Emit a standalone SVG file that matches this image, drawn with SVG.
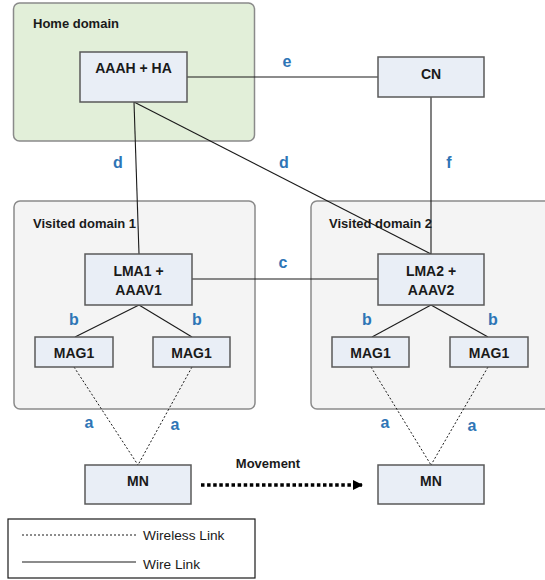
<svg xmlns="http://www.w3.org/2000/svg" width="545" height="580" viewBox="0 0 545 580">
<defs>
<style>
.dom{stroke:#8a8a8a;stroke-width:1.5}
.home{fill:#e2efd9}
.vis{fill:#f4f4f4}
.node{fill:#e9eef6;stroke:#595959;stroke-width:1.5}
.nt{font-family:"Liberation Sans",Arial,sans-serif;font-weight:bold;font-size:14px;fill:#1a1a1a;text-anchor:middle}
.dt{font-family:"Liberation Sans",Arial,sans-serif;font-weight:bold;font-size:13px;fill:#1a1a1a}
.lb{font-family:"Liberation Sans",Arial,sans-serif;font-weight:bold;font-size:16px;fill:#2e75b6;text-anchor:middle}
.wire{stroke:#1a1a1a;stroke-width:1.1;fill:none}
.wl{stroke:#1a1a1a;stroke-width:1;stroke-dasharray:2 2;fill:none}
.lt{font-family:"Liberation Sans",Arial,sans-serif;font-size:13.7px;fill:#1a1a1a}
</style>
<marker id="ah" viewBox="0 0 10 10" refX="9" refY="5" markerWidth="10" markerHeight="11" markerUnits="userSpaceOnUse" orient="auto">
<path d="M0,0 L10,5 L0,10 Z" fill="#000"/>
</marker>
</defs>

<g id="home-domain">
<rect class="dom home" x="13.5" y="3" width="241" height="138" rx="6"/>
<text class="dt" x="33" y="28">Home domain</text>
</g>
<g id="visited-domain-1">
<rect class="dom vis" x="14" y="201" width="241" height="208" rx="6"/>
<text class="dt" x="33" y="228">Visited domain 1</text>
</g>
<g id="visited-domain-2">
<rect class="dom vis" x="311" y="201" width="250" height="208" rx="6"/>
<text class="dt" x="329" y="228">Visited domain 2</text>
</g>

<g id="connectors">
<line class="wire" x1="187" y1="77" x2="378" y2="77"/>
<line class="wire" x1="134" y1="102" x2="139" y2="254"/>
<line class="wire" x1="134" y1="102" x2="431" y2="254"/>
<line class="wire" x1="431" y1="97" x2="431" y2="254"/>
<line class="wire" x1="192" y1="279" x2="378" y2="279"/>
<line class="wire" x1="139" y1="305" x2="75" y2="337"/>
<line class="wire" x1="139" y1="305" x2="192" y2="337"/>
<line class="wire" x1="431" y1="305" x2="372" y2="337"/>
<line class="wire" x1="431" y1="305" x2="488" y2="337"/>
<line class="wl" x1="74" y1="367" x2="138" y2="465"/>
<line class="wl" x1="192" y1="367" x2="138" y2="465"/>
<line class="wl" x1="371" y1="367" x2="431" y2="465"/>
<line class="wl" x1="488" y1="367" x2="431" y2="465"/>
<line x1="201" y1="485" x2="362" y2="485" stroke="#000" stroke-width="3.5" stroke-dasharray="3.5 2.6" marker-end="url(#ah)"/>
<text class="lb" x="287" y="67">e</text>
<text class="lb" x="118" y="168">d</text>
<text class="lb" x="284" y="168">d</text>
<text class="lb" x="449" y="168">f</text>
<text class="lb" x="283" y="268">c</text>
<text class="lb" x="74" y="325">b</text>
<text class="lb" x="197" y="325">b</text>
<text class="lb" x="367" y="325">b</text>
<text class="lb" x="493" y="325">b</text>
<text class="lb" x="89" y="428">a</text>
<text class="lb" x="175" y="430">a</text>
<text class="lb" x="385" y="428">a</text>
<text class="lb" x="472" y="431">a</text>
<text class="dt" x="268" y="468" text-anchor="middle" font-size="13.5">Movement</text>
</g>

<g id="aaah-ha">
<rect class="node" x="80" y="52" width="107" height="50"/>
<text class="nt" x="133.5" y="73">AAAH + HA</text>
</g>
<g id="cn">
<rect class="node" x="378" y="57" width="106" height="40"/>
<text class="nt" x="431" y="79">CN</text>
</g>
<g id="lma1">
<rect class="node" x="85" y="254" width="107" height="51"/>
<text class="nt" x="138.5" y="276">LMA1 +</text>
<text class="nt" x="138.5" y="295">AAAV1</text>
</g>
<g id="lma2">
<rect class="node" x="378" y="254" width="106" height="51"/>
<text class="nt" x="431" y="276">LMA2 +</text>
<text class="nt" x="431" y="295">AAAV2</text>
</g>
<g id="mag1-a">
<rect class="node" x="35" y="337" width="78" height="30"/>
<text class="nt" x="74" y="358">MAG1</text>
</g>
<g id="mag1-b">
<rect class="node" x="153" y="337" width="77" height="30"/>
<text class="nt" x="191.5" y="358">MAG1</text>
</g>
<g id="mag1-c">
<rect class="node" x="332" y="337" width="77" height="30"/>
<text class="nt" x="370.5" y="358">MAG1</text>
</g>
<g id="mag1-d">
<rect class="node" x="450" y="337" width="78" height="30"/>
<text class="nt" x="489" y="358">MAG1</text>
</g>
<g id="mn1">
<rect class="node" x="85" y="465" width="106" height="39"/>
<text class="nt" x="138" y="486">MN</text>
</g>
<g id="mn2">
<rect class="node" x="378" y="465" width="106" height="39"/>
<text class="nt" x="431" y="486">MN</text>
</g>

<g id="legend">
<rect x="8" y="519" width="247" height="59" fill="#fff" stroke="#1a1a1a" stroke-width="1.2"/>
<line class="wl" x1="22" y1="535" x2="136" y2="535"/>
<line class="wire" x1="22" y1="562" x2="136" y2="562"/>
<text class="lt" x="143" y="540">Wireless Link</text>
<text class="lt" x="143" y="569">Wire Link</text>
</g>
</svg>
